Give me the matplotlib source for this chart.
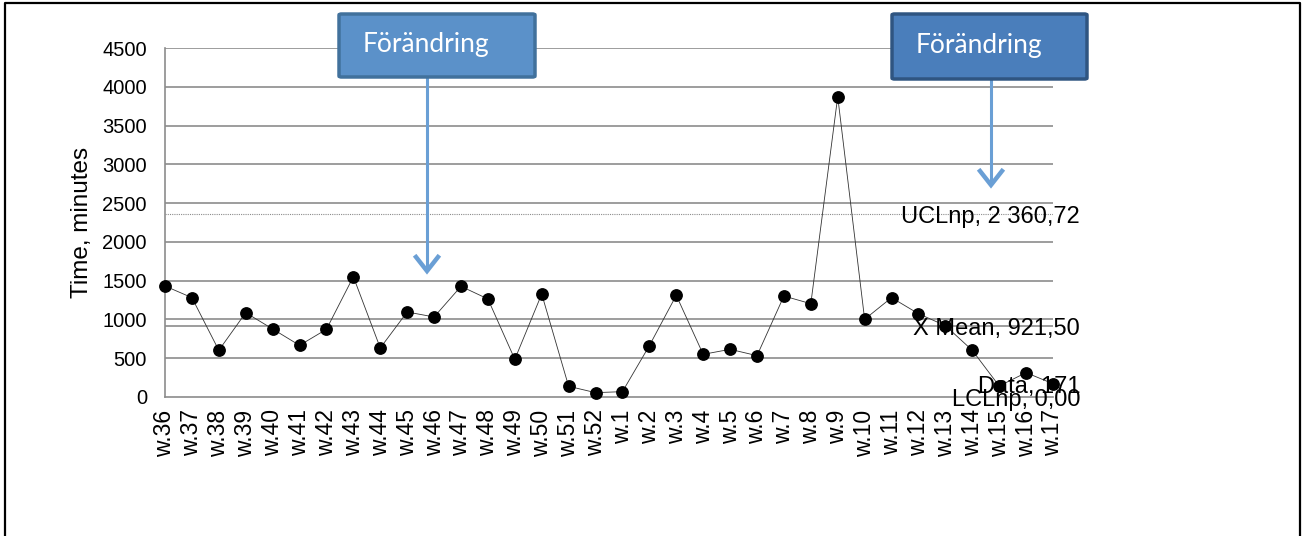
import matplotlib.pyplot as plt
from matplotlib.patches import FancyBboxPatch
from matplotlib.lines import Line2D

# weekly lead time, w.36 through w.17 of the following year
weeks = ['w.%d' % w for w in range(36, 53)] + ['w.%d' % w for w in range(1, 18)]
minutes = [1431, 1281, 602, 1087, 877, 666, 873, 1551, 632, 1096, 1032,
           1427, 1264, 486, 1328, 138, 56, 69, 662, 1311, 550, 615, 533,
           1302, 1203, 3872, 1002, 1281, 1074, 920, 602, 142, 314, 171]

ucl = 2360.72
x_mean = 921.50
lcl = 0.00

yticks = list(range(0, 5000, 500))
change_label = 'Förändring'


def sv(v):
    # swedish number format: space for thousands, comma for decimals
    return f'{v:,.2f}'.replace(',', ' ').replace('.', ',')


W, H = 1302, 536
fig = plt.figure(figsize=(W / 100, H / 100), dpi=100)
plt.rcParams['font.family'] = ['Liberation Sans', 'DejaVu Sans']


def fx(px):
    return px / W


def fy(py):
    return 1 - py / H


ax = fig.add_axes([fx(165), fy(397), fx(1053 - 165), (397 - 48) / H])

x = list(range(len(weeks)))
grid_c = '#8c8c8c'

for t in yticks[1:]:
    ax.axhline(t, color=grid_c, lw=1.2, zorder=1)
ax.axhline(x_mean, color=grid_c, lw=1.2, zorder=1)
ax.axhline(ucl, color='#8c8c8c', lw=0.8, ls=(0, (1, 1)), zorder=1)
ax.axhline(lcl, color='#8c8c8c', lw=0.8, ls=(0, (1, 1)), zorder=2)

ax.plot(x, minutes, color='#333333', lw=0.6, marker='o', ms=8.2,
        mfc='black', mec='black', zorder=3, clip_on=False)

ax.set_xlim(0, len(weeks) - 1)
ax.set_ylim(0, 4500)
ax.set_yticks(yticks)
ax.set_yticklabels([str(t) for t in yticks], fontsize=14.5)
ax.set_xticks(x)
ax.set_xticklabels(weeks, rotation=90, fontsize=16.5)
ax.tick_params(axis='both', length=0)
ax.tick_params(axis='y', pad=13)
ax.tick_params(axis='x', pad=9)
ax.set_ylabel('Time, minutes', fontsize=17.5, labelpad=7)

for s in ['top', 'right']:
    ax.spines[s].set_visible(False)
for s in ['left', 'bottom']:
    ax.spines[s].set_color(grid_c)
    ax.spines[s].set_linewidth(1.2)

# data labels on the last point
last = len(weeks) - 1
labels = [(ucl, 'UCLnp, ' + sv(ucl)),
          (x_mean, 'X Mean, ' + sv(x_mean)),
          (minutes[-1], 'Data, %d' % minutes[-1]),
          (lcl, 'LCLnp, ' + sv(lcl))]
for val, txt in labels:
    ax.annotate(txt, xy=(last, val), xytext=(27, -3), textcoords='offset pixels',
                ha='right', va='center', fontsize=17, zorder=5,
                annotation_clip=False)

# change markers: box with arrow pointing down into the chart
boxes = [
    dict(x0=339, y0=14, x1=535, y1=77, fc='#5b91c9', ec='#41719c', ax_x=427, tip=271),
    dict(x0=892, y0=14, x1=1087, y1=79, fc='#4a7ebb', ec='#2f5581', ax_x=991, tip=185),
]
arrow_c = '#6a9fd5'
for b in boxes:
    patch = FancyBboxPatch((fx(b['x0']), fy(b['y1'])), fx(b['x1'] - b['x0']),
                           (b['y1'] - b['y0']) / H,
                           boxstyle='round,pad=0,rounding_size=0.002',
                           transform=fig.transFigure, fc=b['fc'], ec=b['ec'],
                           lw=2.5, zorder=10)
    fig.patches.append(patch)
    fig.text(fx((b['x0'] + b['x1']) / 2 - 11), fy((b['y0'] + b['y1']) / 2 - 1),
             change_label, family=['Lato', 'DejaVu Sans'], fontsize=19,
             color='white', ha='center', va='center', zorder=11)
    ax_x, tip = b['ax_x'], b['tip']
    fig.add_artist(Line2D([fx(ax_x), fx(ax_x)], [fy(b['y1'] + 1), fy(tip - 2)],
                          transform=fig.transFigure, color=arrow_c, lw=2.2, zorder=9))
    fig.add_artist(Line2D([fx(ax_x - 11), fx(ax_x), fx(ax_x + 11)],
                          [fy(tip - 14), fy(tip), fy(tip - 14)],
                          transform=fig.transFigure, color=arrow_c, lw=3.2,
                          solid_joinstyle='miter', zorder=9))

# outer frame
frame = dict(transform=fig.transFigure, color='black', lw=1.6)
fig.add_artist(Line2D([fx(5), fx(5), fx(1300), fx(1300)],
                      [0, fy(3), fy(3), 0], **frame))

fig.savefig('out.png', dpi=100)
